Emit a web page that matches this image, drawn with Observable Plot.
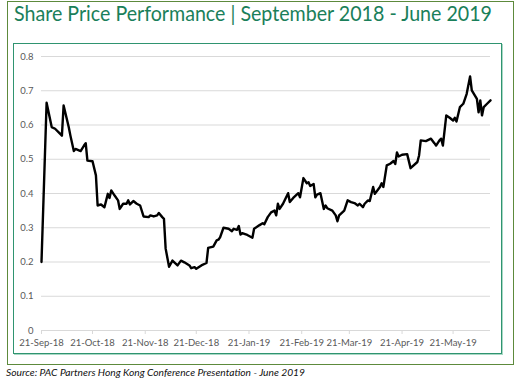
<!DOCTYPE html>
<html><head><meta charset="utf-8">
<script src="https://cdn.jsdelivr.net/npm/d3@7"></script>
<script src="https://cdn.jsdelivr.net/npm/@observablehq/plot@0.6"></script>
<style>
body{margin:0;background:#fff;}
#wrap{position:relative;width:525px;height:381px;overflow:hidden;background:#fff;}
#outer{position:absolute;left:7px;top:1px;width:507px;height:364px;border:1.5px solid #5d8a3c;box-sizing:border-box;}
#inner{position:absolute;left:13px;top:43px;width:489px;height:311px;border:1.5px solid #2f9470;box-sizing:border-box;box-shadow:1px 1px 0 #a9d9c5;}
#deco{position:absolute;left:0;top:0;}
#chart{position:absolute;left:0;top:0;}
</style></head>
<body>
<div id="wrap">
  <div id="outer"></div>
  <div id="inner"></div>
  <svg id="deco" width="525" height="381">
    <text id="title" x="14" y="21" font-family="Lato, 'Open Sans', sans-serif" font-size="21" fill="#1a7f5a" textLength="478" lengthAdjust="spacingAndGlyphs">Share Price Performance | September 2018 - June 2019</text>
    <text id="source" x="6" y="376" font-family="Lato, 'Open Sans', sans-serif" font-size="10" font-style="italic" fill="#111" textLength="299" lengthAdjust="spacingAndGlyphs">Source: PAC Partners Hong Kong Conference Presentation - June 2019</text>
  </svg>
  <div id="chart"></div>
</div>
<script>
const dates = ["2018-09-21","2018-09-24","2018-09-27","2018-09-29","2018-10-02","2018-10-03","2018-10-04","2018-10-07","2018-10-08","2018-10-10","2018-10-11","2018-10-14","2018-10-16","2018-10-17","2018-10-18","2018-10-21","2018-10-23","2018-10-24","2018-10-26","2018-10-28","2018-10-30","2018-10-31","2018-11-01","2018-11-03","2018-11-05","2018-11-06","2018-11-08","2018-11-10","2018-11-11","2018-11-12","2018-11-14","2018-11-16","2018-11-18","2018-11-20","2018-11-23","2018-11-24","2018-11-26","2018-11-28","2018-11-29","2018-12-01","2018-12-02","2018-12-03","2018-12-05","2018-12-07","2018-12-10","2018-12-12","2018-12-14","2018-12-17","2018-12-18","2018-12-20","2018-12-21","2018-12-24","2018-12-27","2018-12-28","2018-12-31","2019-01-02","2019-01-03","2019-01-04","2019-01-06","2019-01-09","2019-01-11","2019-01-12","2019-01-14","2019-01-15","2019-01-16","2019-01-17","2019-01-20","2019-01-23","2019-01-24","2019-01-27","2019-01-29","2019-01-30","2019-02-01","2019-02-03","2019-02-05","2019-02-06","2019-02-07","2019-02-08","2019-02-10","2019-02-13","2019-02-14","2019-02-16","2019-02-19","2019-02-20","2019-02-22","2019-02-24","2019-02-25","2019-02-26","2019-02-28","2019-03-01","2019-03-02","2019-03-04","2019-03-06","2019-03-07","2019-03-08","2019-03-11","2019-03-13","2019-03-14","2019-03-15","2019-03-18","2019-03-20","2019-03-22","2019-03-24","2019-03-26","2019-03-27","2019-03-29","2019-03-30","2019-04-01","2019-04-02","2019-04-04","2019-04-05","2019-04-08","2019-04-09","2019-04-10","2019-04-12","2019-04-14","2019-04-16","2019-04-17","2019-04-18","2019-04-19","2019-04-21","2019-04-24","2019-04-26","2019-04-30","2019-05-01","2019-05-02","2019-05-05","2019-05-08","2019-05-10","2019-05-11","2019-05-13","2019-05-14","2019-05-15","2019-05-17","2019-05-19","2019-05-21","2019-05-22","2019-05-23","2019-05-25","2019-05-27","2019-05-29","2019-05-31","2019-06-01","2019-06-04","2019-06-05","2019-06-06","2019-06-07","2019-06-08","2019-06-10","2019-06-12"];
const prices = [0.200,0.665,0.594,0.589,0.574,0.569,0.657,0.594,0.569,0.524,0.530,0.524,0.540,0.547,0.496,0.494,0.453,0.365,0.368,0.360,0.399,0.387,0.409,0.394,0.380,0.355,0.370,0.370,0.380,0.368,0.378,0.370,0.365,0.333,0.331,0.336,0.333,0.336,0.343,0.331,0.326,0.239,0.186,0.204,0.190,0.204,0.199,0.190,0.182,0.185,0.180,0.190,0.197,0.241,0.245,0.263,0.265,0.272,0.300,0.297,0.290,0.297,0.294,0.305,0.280,0.284,0.279,0.271,0.297,0.307,0.313,0.310,0.331,0.345,0.350,0.336,0.370,0.355,0.370,0.401,0.375,0.387,0.401,0.389,0.445,0.430,0.433,0.422,0.428,0.389,0.397,0.401,0.355,0.365,0.357,0.350,0.336,0.319,0.336,0.350,0.380,0.375,0.372,0.365,0.370,0.360,0.370,0.380,0.378,0.419,0.399,0.419,0.430,0.419,0.482,0.487,0.495,0.486,0.520,0.508,0.513,0.515,0.474,0.492,0.511,0.555,0.553,0.560,0.547,0.540,0.555,0.560,0.540,0.628,0.621,0.613,0.621,0.610,0.652,0.662,0.691,0.742,0.701,0.676,0.637,0.672,0.628,0.652,0.662,0.672];
const xTickLabels = ["2018-09-21","2018-10-21","2018-11-21","2018-12-21","2019-01-21","2019-02-21","2019-03-21","2019-04-21","2019-05-21"];
const yTicks = [0,0.1,0.2,0.3,0.4,0.5,0.6,0.7,0.8];

const data = dates.map((d,i)=>({date:new Date(d+"T00:00:00Z"), value:prices[i]}));
const xTicks = xTickLabels.map(d=>new Date(d+"T00:00:00Z"));
const fmt = d3.utcFormat("%d-%b-%y");

const plot = Plot.plot({
  width:525, height:381,
  marginLeft:41, marginRight:35, marginTop:56, marginBottom:51,
  style:{background:"transparent", fontFamily:"Lato, 'Open Sans', sans-serif", fontSize:"9.5px", color:"#595959"},
  x:{type:"utc", domain:[data[0].date, data[data.length-1].date]},
  y:{domain:[0,0.8]},
  marks:[
    Plot.gridY(yTicks.filter(v=>v>0), {stroke:"#d9d9d9", strokeOpacity:1, strokeWidth:1}),
    Plot.ruleY([0], {stroke:"#d9d9d9", strokeWidth:1}),
    Plot.axisX(xTicks, {tickSize:4, tickPadding:5, stroke:"#d9d9d9", fill:"#595959", tickFormat:fmt, label:null}),
    Plot.axisY(yTicks, {tickSize:0, tickPadding:8, fill:"#595959", tickFormat:d=>d===0?"0":d.toFixed(1), label:null}),
    Plot.lineY(data, {x:"date", y:"value", stroke:"#000", strokeWidth:2.4, strokeLinejoin:"round"})
  ]
});
document.getElementById("chart").appendChild(plot);
</script>
</body></html>
